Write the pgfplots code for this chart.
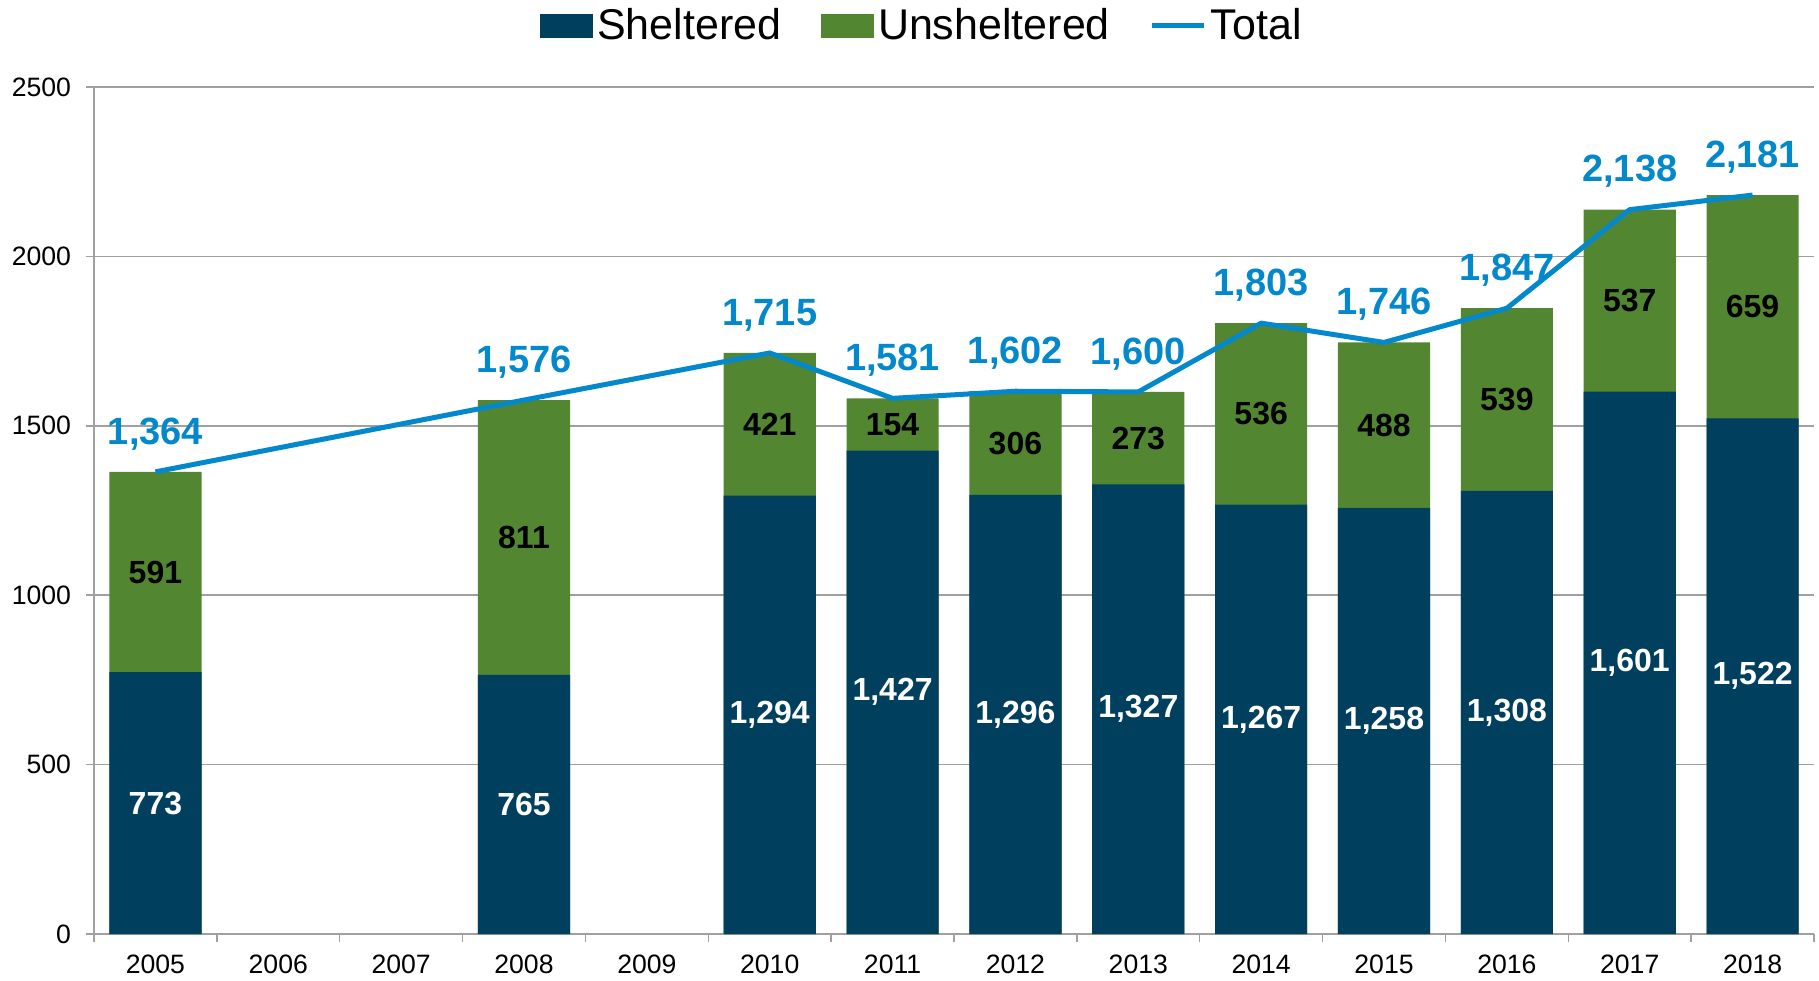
\documentclass[border=0pt]{standalone}
\usepackage{pgfplots}
\pgfplotsset{compat=1.18}
\usepackage{pgfplotstable}
\usepackage{fontspec}
\setmainfont{Liberation Sans}
\definecolor{shelt}{RGB}{0,63,94}
\definecolor{unshelt}{RGB}{83,134,48}
\definecolor{totalc}{RGB}{4,136,204}
\definecolor{gridc}{RGB}{160,160,160}
\pgfplotstableread{
x s u t
0 773 591 1364
3 765 811 1576
5 1294 421 1715
6 1427 154 1581
7 1296 306 1602
8 1327 273 1600
9 1267 536 1803
10 1258 488 1746
11 1308 539 1847
12 1601 537 2138
13 1522 659 2181
}\data
\begin{document}
\begin{tikzpicture}
\useasboundingbox (-47pt,-23pt) rectangle (862.5pt,467pt);
\begin{axis}[
  scale only axis,
  width=860pt, height=423.5pt,
  xmin=-0.5, xmax=13.5, ymin=0, ymax=2500,
  xtick={-0.5,0.5,...,13.5},
  x tick label as interval,
  xticklabels={2005,2006,2007,2008,2009,2010,2011,2012,2013,2014,2015,2016,2017,2018},
  ytick={0,500,...,2500},
  ymajorgrids,
  grid style={gridc, line width=0.75pt},
  axis x line*=bottom, axis y line*=left,
  axis line style={-, gridc, line width=0.75pt},
  tick style={gridc, line width=0.75pt},
  major tick length=4pt,
  tick align=outside,
  /pgf/number format/assume math mode=true,
  /pgf/number format/1000 sep={},
  ticklabel style={font=\fontsize{13.3}{15}\selectfont},
  yticklabel style={xshift=-4pt},
  xticklabel style={yshift=-3pt},
  legend style={at={(0.482,1.0726)}, anchor=center, draw=none, fill=none,
    font=\fontsize{21.5}{25}\selectfont, legend columns=3,
    /tikz/every even column/.append style={column sep=18pt},
    nodes={inner sep=2pt}},
  legend cell align=left,
]
\addlegendimage{legend image code/.code={\fill[shelt] (0pt,-5.75pt) rectangle (26pt,5.75pt);}}
\addlegendentry{Sheltered}
\addlegendimage{legend image code/.code={\fill[unshelt] (0pt,-5.75pt) rectangle (26pt,5.75pt);}}
\addlegendentry{Unsheltered}
\addlegendimage{legend image code/.code={\draw[totalc, line width=2.5pt] (0pt,0pt) -- (26pt,0pt);}}
\addlegendentry{Total}

\addplot[forget plot, ybar, bar width=0.75, bar shift=0pt, fill=unshelt, draw=none] table[x=x,y=t]{\data};
\addplot[forget plot, ybar, bar width=0.75, bar shift=0pt, fill=shelt, draw=none] table[x=x,y=s]{\data};
\addplot[forget plot, totalc, line width=2.5pt, line join=round, mark=none] table[x=x,y=t]{\data};

\addplot[forget plot, draw=none, mark=none, point meta=explicit,
  nodes near coords={\pgfmathprintnumber[1000 sep={,}]{\pgfplotspointmeta}},
  every node near coord/.append style={anchor=center, text=white, font=\bfseries\fontsize{16}{19}\selectfont}]
  table[x=x, y expr=\thisrow{s}/2, meta=s]{\data};
\addplot[forget plot, draw=none, mark=none, point meta=explicit,
  nodes near coords={\pgfmathprintnumber[1000 sep={,}]{\pgfplotspointmeta}},
  every node near coord/.append style={anchor=center, text=black, font=\bfseries\fontsize{16}{19}\selectfont}]
  table[x=x, y expr=\thisrow{s}+\thisrow{u}/2, meta=u]{\data};
\addplot[forget plot, draw=none, mark=none, point meta=explicit,
  nodes near coords={\pgfmathprintnumber[1000 sep={,}]{\pgfplotspointmeta}},
  every node near coord/.append style={anchor=center, yshift=19pt, text=totalc, font=\bfseries\fontsize{19}{23}\selectfont}]
  table[x=x, y=t, meta=t]{\data};
\end{axis}
\end{tikzpicture}
\end{document}
